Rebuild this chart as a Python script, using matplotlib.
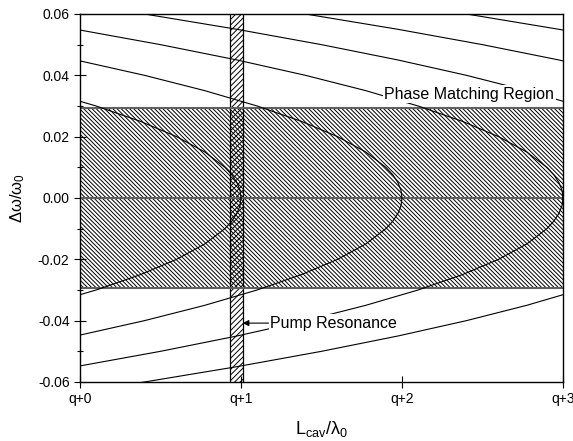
import matplotlib
matplotlib.use('Agg')
import matplotlib.pyplot as plt
from matplotlib.patches import Rectangle
import numpy as np

# curve shape: cavity-length lag behind the vertex vs. detuning
dw_levels = [0, 0.0025, 0.005, 0.0075, 0.01, 0.015, 0.02, 0.025, 0.03,
             0.035, 0.04, 0.045, 0.05, 0.055, 0.06, 0.065]
lag = [0, 0.006, 0.025, 0.056, 0.10, 0.225, 0.40, 0.625, 0.90,
       1.225, 1.60, 2.025, 2.50, 3.025, 3.60, 4.225]
upper_orders = [1, 2, 3, 4, 5, 6]     # vertex positions (q+n), upper branch
lower_orders = [1, 2, 3, 4]           # lower branch drawn only for these

phase_lo, phase_hi = -0.0295, 0.0295   # phase matching band
phase_x = (0, 3)
pump_lo, pump_hi = 0.93, 1.01          # pump resonance band

xticks = [0, 1, 2, 3]
xticklabels = ['q+0', 'q+1', 'q+2', 'q+3']
yticks = [-0.06, -0.04, -0.02, 0.00, 0.02, 0.04, 0.06]

plt.rcParams['font.family'] = ['Liberation Sans', 'DejaVu Sans']
plt.rcParams['mathtext.fontset'] = 'custom'
plt.rcParams['mathtext.rm'] = 'Liberation Sans'
plt.rcParams['mathtext.it'] = 'Liberation Sans'
plt.rcParams['axes.unicode_minus'] = False
plt.rcParams['hatch.linewidth'] = 0.7

fig = plt.figure(figsize=(5.73, 4.41), dpi=100, facecolor='white')
ax = fig.add_axes([0.1396, 0.1338, 0.8429, 0.8345])

dw = np.array(dw_levels)
lg = np.array(lag)

# hatched regions
ax.add_patch(Rectangle((phase_x[0], phase_lo), phase_x[1] - phase_x[0],
                       phase_hi - phase_lo, fill=False, hatch='\\' * 8,
                       edgecolor='black', lw=0, zorder=1))
ax.add_patch(Rectangle((pump_lo, -0.07), pump_hi - pump_lo, 0.14,
                       fill=False, hatch='/' * 6, edgecolor='black',
                       lw=0.9, zorder=1))
for yy in (phase_lo, phase_hi, 0.0):
    ax.plot(phase_x, [yy, yy], color='#606060', lw=1.5, zorder=2)

# curves
for n in upper_orders:
    ax.plot(n - lg, dw, color='black', lw=0.8, zorder=3)
for n in lower_orders:
    ax.plot(n - lg, -dw, color='black', lw=0.8, zorder=3)

ax.text(1.89, 0.0339, 'Phase Matching Region', fontsize=11.5, ha='left',
        va='center', zorder=5,
        bbox=dict(facecolor='white', edgecolor='none', pad=1.0))
ax.annotate('Pump Resonance', xy=(pump_hi, -0.0408), xytext=(1.18, -0.0408),
            fontsize=11.5, ha='left', va='center', zorder=5,
            bbox=dict(facecolor='white', edgecolor='none', pad=1.0),
            arrowprops=dict(arrowstyle='-|>', color='black', lw=0.8,
                            mutation_scale=9, shrinkA=0, shrinkB=0))

ax.set_xlim(0, 3)
ax.set_ylim(-0.06, 0.06)
ax.set_xticks(xticks)
ax.set_xticklabels(xticklabels)
ax.set_yticks(yticks)
ax.set_yticklabels([f'{v:.2f}' for v in yticks])
ax.set_yticks(np.arange(-0.05, 0.06, 0.02), minor=True)
ax.tick_params(axis='both', which='major', direction='inout', length=8,
               width=0.8, labelsize=10, top=False, right=False)
ax.tick_params(axis='y', which='minor', direction='inout', length=4.5,
               width=0.8)
for s in ax.spines.values():
    s.set_linewidth(1.0)

ax.set_xlabel(r'$\mathregular{L_{cav}/\lambda_0}$', fontsize=13, labelpad=9)
ax.set_ylabel(r'$\mathregular{\Delta\omega/\omega_0}$', fontsize=12, labelpad=8)

fig.savefig('out.png', dpi=100, facecolor='white')
